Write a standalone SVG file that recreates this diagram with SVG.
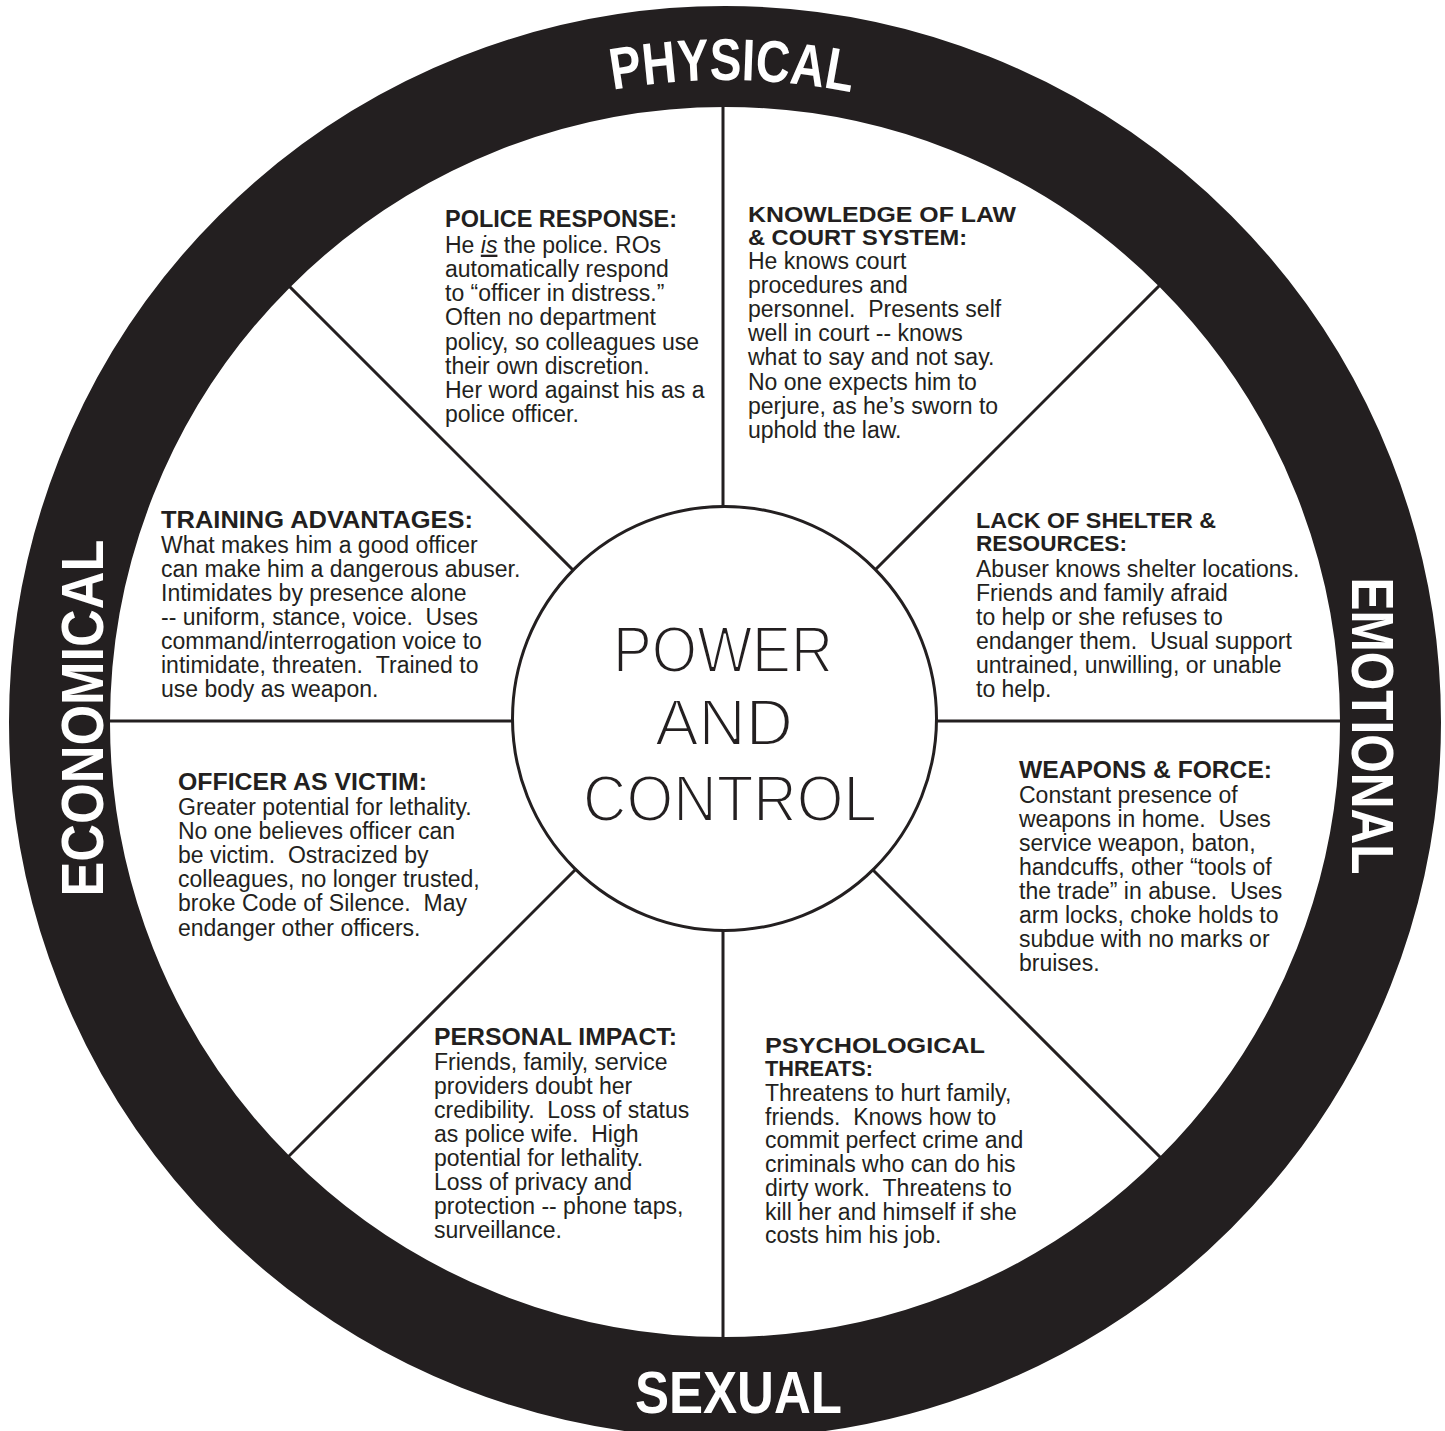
<svg xmlns="http://www.w3.org/2000/svg" width="1445" height="1431" viewBox="0 0 1445 1431">
<style>
.h{font-family:"Liberation Sans",Arial,sans-serif;font-weight:bold;font-size:24px;fill:#231f20}
.h2{font-family:"Liberation Sans",Arial,sans-serif;font-weight:bold;font-size:22px;fill:#231f20}
.b{font-family:"Liberation Sans",Arial,sans-serif;font-size:23px;fill:#231f20}
.ring{font-family:"Liberation Sans",Arial,sans-serif;font-weight:bold;font-size:59px;fill:#ffffff}
.c{font-family:"Liberation Sans",Arial,sans-serif;font-size:65px;fill:#231f20;stroke:#ffffff;stroke-width:2.2px}
.sp{stroke:#231f20;stroke-width:3;fill:none}
</style>
<defs>
<path id="pPhys" d="M 83 722 A 642 642 0 0 1 1367 722"/>
</defs>
<rect width="1445" height="1431" fill="#ffffff"/>
<g id="connectors" class="sp">
<line x1="723" y1="80" x2="723" y2="1380"/>
<line x1="80" y1="721" x2="1370" y2="721"/>
<line x1="224" y1="221" x2="1224" y2="1221"/>
<line x1="1224" y1="221" x2="224" y2="1221"/>
</g>
<g id="ring">
<circle cx="725" cy="722" r="665.5" fill="none" stroke="#231f20" stroke-width="101"/>
<text class="ring"><textPath href="#pPhys" startOffset="1015.5" text-anchor="middle" textLength="240" lengthAdjust="spacingAndGlyphs">PHYSICAL</textPath></text>
<text class="ring" transform="translate(1352,726) rotate(90)" text-anchor="middle" textLength="297" lengthAdjust="spacingAndGlyphs">EMOTIONAL</text>
<text class="ring" transform="translate(103,718) rotate(-90)" text-anchor="middle" textLength="357" lengthAdjust="spacingAndGlyphs">ECONOMICAL</text>
<text class="ring" x="738.5" y="1413" text-anchor="middle" textLength="207" lengthAdjust="spacingAndGlyphs">SEXUAL</text>
</g>
<g id="center">
<circle cx="724.5" cy="718.5" r="212" fill="#ffffff" stroke="#231f20" stroke-width="3"/>
<text class="c" x="723" y="671.5" text-anchor="middle" textLength="220" lengthAdjust="spacingAndGlyphs">POWER</text>
<text class="c" x="724" y="745" text-anchor="middle" textLength="138" lengthAdjust="spacingAndGlyphs">AND</text>
<text class="c" x="730" y="820.5" text-anchor="middle" textLength="294" lengthAdjust="spacingAndGlyphs">CONTROL</text>
</g>
<g id="police-response">
<text class="h" x="445" y="227" textLength="232" lengthAdjust="spacingAndGlyphs">POLICE RESPONSE:</text>
<text class="b" x="445" y="252.7">He <tspan font-style="italic" text-decoration="underline">is</tspan> the police. ROs</text>
<text class="b" x="445" y="276.9">automatically respond</text>
<text class="b" x="445" y="301.1">to “officer in distress.”</text>
<text class="b" x="445" y="325.3">Often no department</text>
<text class="b" x="445" y="349.5">policy, so colleagues use</text>
<text class="b" x="445" y="373.7">their own discretion.</text>
<text class="b" x="445" y="397.9">Her word against his as a</text>
<text class="b" x="445" y="422.1">police officer.</text>
</g>
<g id="knowledge-of-law">
<text class="h2" x="748" y="222" textLength="268" lengthAdjust="spacingAndGlyphs">KNOWLEDGE OF LAW</text>
<text class="h2" x="748" y="245" textLength="219" lengthAdjust="spacingAndGlyphs">&amp; COURT SYSTEM:</text>
<text class="b" x="748" y="269">He knows court</text>
<text class="b" x="748" y="293.1">procedures and</text>
<text class="b" x="748" y="317.2">personnel. &#160;Presents self</text>
<text class="b" x="748" y="341.3">well in court -- knows</text>
<text class="b" x="748" y="365.4">what to say and not say.</text>
<text class="b" x="748" y="389.5">No one expects him to</text>
<text class="b" x="748" y="413.6">perjure, as he’s sworn to</text>
<text class="b" x="748" y="437.7">uphold the law.</text>
</g>
<g id="training-advantages">
<text class="h" x="161" y="528" textLength="312" lengthAdjust="spacingAndGlyphs">TRAINING ADVANTAGES:</text>
<text class="b" x="161" y="552.5">What makes him a good officer</text>
<text class="b" x="161" y="576.6">can make him a dangerous abuser.</text>
<text class="b" x="161" y="600.7">Intimidates by presence alone</text>
<text class="b" x="161" y="624.8">-- uniform, stance, voice. &#160;Uses</text>
<text class="b" x="161" y="648.9">command/interrogation voice to</text>
<text class="b" x="161" y="673">intimidate, threaten. &#160;Trained to</text>
<text class="b" x="161" y="697.1">use body as weapon.</text>
</g>
<g id="lack-of-shelter">
<text class="h2" x="976" y="528" textLength="240" lengthAdjust="spacingAndGlyphs">LACK OF SHELTER &amp;</text>
<text class="h2" x="976" y="551" textLength="151" lengthAdjust="spacingAndGlyphs">RESOURCES:</text>
<text class="b" x="976" y="577">Abuser knows shelter locations.</text>
<text class="b" x="976" y="601">Friends and family afraid</text>
<text class="b" x="976" y="625">to help or she refuses to</text>
<text class="b" x="976" y="649">endanger them. &#160;Usual support</text>
<text class="b" x="976" y="673">untrained, unwilling, or unable</text>
<text class="b" x="976" y="697">to help.</text>
</g>
<g id="officer-as-victim">
<text class="h" x="178" y="790" textLength="249" lengthAdjust="spacingAndGlyphs">OFFICER AS VICTIM:</text>
<text class="b" x="178" y="814.5">Greater potential for lethality.</text>
<text class="b" x="178" y="838.7">No one believes officer can</text>
<text class="b" x="178" y="862.9">be victim. &#160;Ostracized by</text>
<text class="b" x="178" y="887.1">colleagues, no longer trusted,</text>
<text class="b" x="178" y="911.3">broke Code of Silence. &#160;May</text>
<text class="b" x="178" y="935.5">endanger other officers.</text>
</g>
<g id="weapons-and-force">
<text class="h" x="1019" y="778" textLength="253" lengthAdjust="spacingAndGlyphs">WEAPONS &amp; FORCE:</text>
<text class="b" x="1019" y="802.5">Constant presence of</text>
<text class="b" x="1019" y="826.6">weapons in home. &#160;Uses</text>
<text class="b" x="1019" y="850.7">service weapon, baton,</text>
<text class="b" x="1019" y="874.8">handcuffs, other “tools of</text>
<text class="b" x="1019" y="898.9">the trade” in abuse. &#160;Uses</text>
<text class="b" x="1019" y="923">arm locks, choke holds to</text>
<text class="b" x="1019" y="947.1">subdue with no marks or</text>
<text class="b" x="1019" y="971.2">bruises.</text>
</g>
<g id="personal-impact">
<text class="h" x="434" y="1045" textLength="243" lengthAdjust="spacingAndGlyphs">PERSONAL IMPACT:</text>
<text class="b" x="434" y="1069.5">Friends, family, service</text>
<text class="b" x="434" y="1093.6">providers doubt her</text>
<text class="b" x="434" y="1117.7">credibility. &#160;Loss of status</text>
<text class="b" x="434" y="1141.8">as police wife. &#160;High</text>
<text class="b" x="434" y="1165.9">potential for lethality.</text>
<text class="b" x="434" y="1190">Loss of privacy and</text>
<text class="b" x="434" y="1214.1">protection -- phone taps,</text>
<text class="b" x="434" y="1238.2">surveillance.</text>
</g>
<g id="psychological-threats">
<text class="h2" x="765" y="1052.5" textLength="220" lengthAdjust="spacingAndGlyphs">PSYCHOLOGICAL</text>
<text class="h2" x="765" y="1075.5" textLength="108" lengthAdjust="spacingAndGlyphs">THREATS:</text>
<text class="b" x="765" y="1101">Threatens to hurt family,</text>
<text class="b" x="765" y="1124.7">friends. &#160;Knows how to</text>
<text class="b" x="765" y="1148.4">commit perfect crime and</text>
<text class="b" x="765" y="1172.1">criminals who can do his</text>
<text class="b" x="765" y="1195.8">dirty work. &#160;Threatens to</text>
<text class="b" x="765" y="1219.5">kill her and himself if she</text>
<text class="b" x="765" y="1243.2">costs him his job.</text>
</g>
</svg>
